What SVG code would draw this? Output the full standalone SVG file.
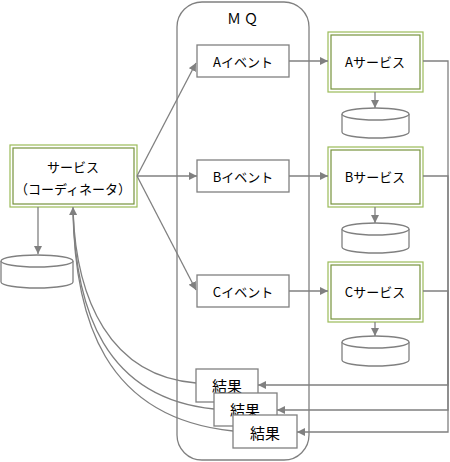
<svg xmlns="http://www.w3.org/2000/svg" width="450" height="462" viewBox="0 0 450 462">
<style>
text{font-family:"Noto Sans CJK JP","Liberation Sans",sans-serif;font-size:13px;fill:#000;text-anchor:middle;dominant-baseline:central}
.big{font-size:15px}
.box{fill:#fff;stroke:#808080;stroke-width:1.3}
.o{fill:#fff;stroke:#9bbb59;stroke-width:1.2}
.i{fill:none;stroke:#77933c;stroke-width:1.2}
.ln{fill:none;stroke:#808080;stroke-width:1.3}
.db{fill:#fff;stroke:#808080;stroke-width:1.3}
</style>
<defs>
<marker id="ar" viewBox="0 0 10 10" refX="10" refY="5" markerWidth="8" markerHeight="8" markerUnits="userSpaceOnUse" orient="auto">
<path d="M0,0L10,5L0,10z" fill="#808080"/>
</marker>
</defs>
<g id="mq"><rect x="177" y="2" width="132" height="458" rx="25" fill="#fff" stroke="#808080" stroke-width="1.3"/><text x="244" y="18" style="font-size:14px" letter-spacing="3">ＭＱ</text></g>
<g id="coord"><rect class="o" x="10" y="145" width="127" height="62"/><rect class="i" x="13" y="148" width="121" height="56"/><text x="73" y="166">サービス</text><text x="73" y="188">（コーディネータ）</text></g>
<g id="coord-db"><path class="db" d="M1,261 V282 A36,6 0 0 0 73,282 V261"/><ellipse class="db" cx="37" cy="261" rx="36" ry="6"/></g>
<g id="evA"><rect class="box" x="197" y="45" width="92" height="32"/><text x="243" y="61">Aイベント</text></g>
<g id="evB"><rect class="box" x="197" y="160" width="92" height="32"/><text x="243" y="176">Bイベント</text></g>
<g id="evC"><rect class="box" x="197" y="275" width="92" height="32"/><text x="243" y="291">Cイベント</text></g>
<g id="svA"><rect class="o" x="328" y="32" width="95" height="60"/><rect class="i" x="331" y="35" width="89" height="54"/><text x="375" y="61">Aサービス</text></g>
<g id="svB"><rect class="o" x="328" y="147" width="95" height="60"/><rect class="i" x="331" y="150" width="89" height="54"/><text x="375" y="176">Bサービス</text></g>
<g id="svC"><rect class="o" x="328" y="262" width="95" height="60"/><rect class="i" x="331" y="265" width="89" height="54"/><text x="375" y="291">Cサービス</text></g>
<g id="dbA"><path class="db" d="M342,114 V132 A33.5,6 0 0 0 409,132 V114"/><ellipse class="db" cx="375.5" cy="114" rx="33.5" ry="6"/></g>
<g id="dbB"><path class="db" d="M342,229 V247 A33.5,6 0 0 0 409,247 V229"/><ellipse class="db" cx="375.5" cy="229" rx="33.5" ry="6"/></g>
<g id="dbC"><path class="db" d="M342,342 V360 A33.5,6 0 0 0 409,360 V342"/><ellipse class="db" cx="375.5" cy="342" rx="33.5" ry="6"/></g>
<g id="connectors">
<path class="ln" d="M38,207 V254" marker-end="url(#ar)"/>
<path class="ln" d="M137,176 L196,63" marker-end="url(#ar)"/>
<path class="ln" d="M137,176 H197" marker-end="url(#ar)"/>
<path class="ln" d="M137,176 L196,290" marker-end="url(#ar)"/>
<path class="ln" d="M289,61 H328" marker-end="url(#ar)"/>
<path class="ln" d="M289,176 H328" marker-end="url(#ar)"/>
<path class="ln" d="M289,291 H328" marker-end="url(#ar)"/>
<path class="ln" d="M375,92 V108" marker-end="url(#ar)"/>
<path class="ln" d="M375,207 V223" marker-end="url(#ar)"/>
<path class="ln" d="M375,322 V336" marker-end="url(#ar)"/>
<path class="ln" d="M423,61 H448 V385 H258" marker-end="url(#ar)"/>
<path class="ln" d="M423,176 H448 V410 H277" marker-end="url(#ar)"/>
<path class="ln" d="M423,291 H448 V432 H297" marker-end="url(#ar)"/>
<path class="ln" d="M196,383 C110,376 76,300 73,210"/>
<path class="ln" d="M214,409 C105,398 75,310 73,210"/>
<path class="ln" d="M233,431 C105,418 74,320 73,207" marker-end="url(#ar)"/>
</g>
<g id="r1"><rect class="box" x="196" y="369" width="62" height="33"/><text class="big" x="227" y="385">結果</text></g>
<g id="r2"><rect class="box" x="214" y="393" width="63" height="33"/><text class="big" x="245" y="409">結果</text></g>
<g id="r3"><rect class="box" x="233" y="415" width="64" height="33"/><text class="big" x="265" y="432">結果</text></g>
</svg>
